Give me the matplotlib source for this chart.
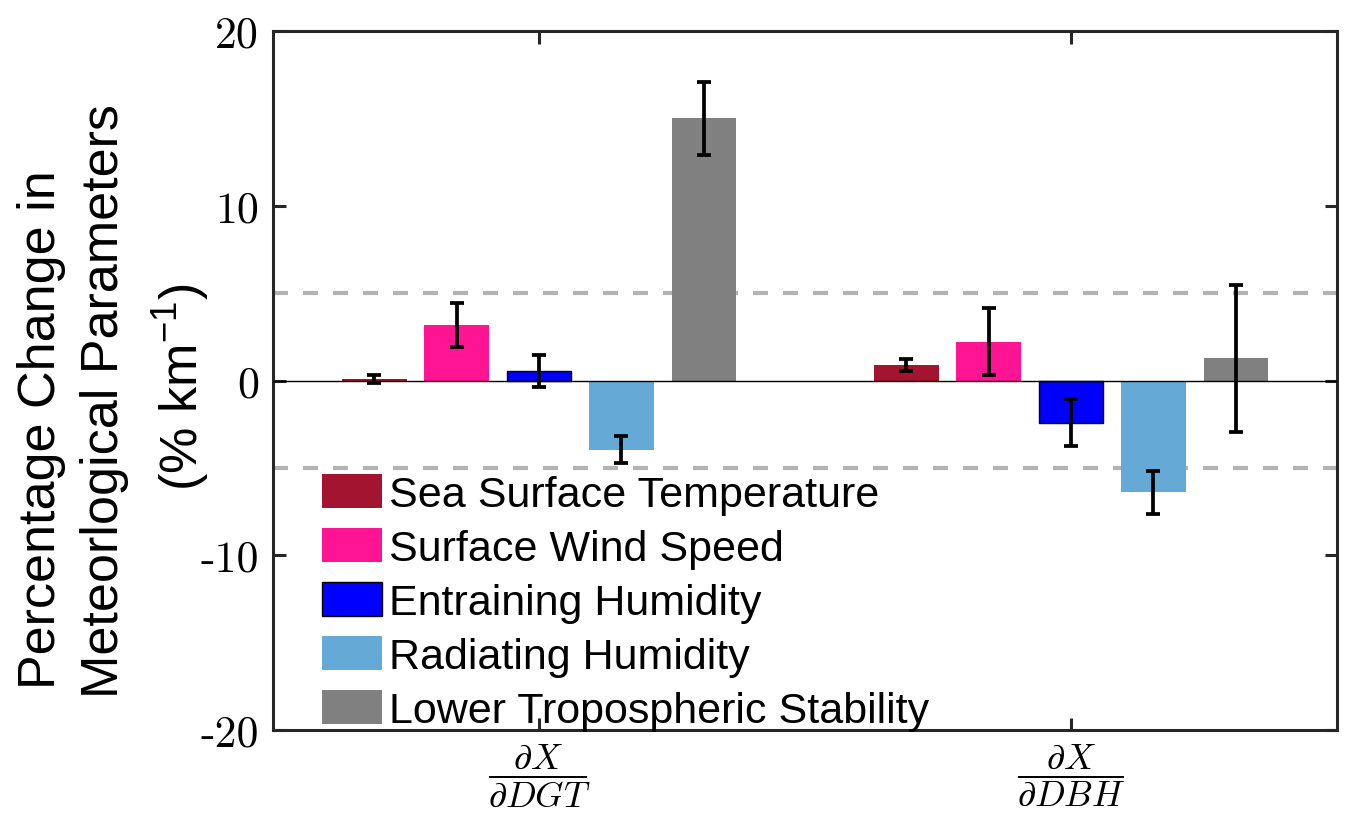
import numpy as np
import matplotlib
matplotlib.use('Agg')
import matplotlib.pyplot as plt

plt.rcParams['font.family'] = ['Liberation Sans', 'DejaVu Sans']

groups = [r'$\dfrac{\partial X}{\partial DGT}$', r'$\dfrac{\partial X}{\partial DBH}$']
names = ['Sea Surface Temperature', 'Surface Wind Speed', 'Entraining Humidity',
         'Radiating Humidity', 'Lower Tropospheric Stability']
colors = ['#A2142F', '#FF1493', '#0000FF', '#65A9D7', '#808080']

# rows: variable, cols: DGT, DBH
vals = [[0.1, 0.88],
        [3.17, 2.23],
        [0.55, -2.42],
        [-3.95, -6.4],
        [15.0, 1.26]]
errs = [[0.22, 0.35],
        [1.27, 1.91],
        [0.9, 1.34],
        [0.75, 1.23],
        [2.07, 4.22]]
yticks = [-20, -10, 0, 10, 20]
ylab_lines = ['Percentage Change in', 'Meteorlogical Parameters',
              '(% km$^{\\mathregular{-1}}$)']

fig = plt.figure(figsize=(13.53, 8.2), dpi=100)
ax = fig.add_axes([0.2018, 0.1085, 0.7864, 0.8525])

x = np.arange(1, len(groups) + 1)
w = 0.122
step = 0.155
for i in range(len(names)):
    off = (i - 2) * step
    ec = 'black' if i == 2 else colors[i]
    lw = 1.0 if i == 2 else 0
    ax.bar(x + off, vals[i], w, color=colors[i], edgecolor=ec, linewidth=lw,
           label=names[i], zorder=2)
    ax.errorbar(x + off, vals[i], yerr=errs[i], fmt='none', ecolor='black',
                elinewidth=2.7, capsize=5, capthick=2.7, zorder=4)

ax.axhline(0, color='black', lw=1.0, zorder=3)
for yy in [5, -5]:
    ax.axhline(yy, color='#B3B3B3', lw=3, linestyle=(0, (3.6, 3.6)), zorder=1)

ax.set_xlim(0.5, 2.5)
ax.set_ylim(-20, 20)
ax.set_xticks(x)
ax.set_xticklabels(groups, fontsize=26, math_fontfamily='cm')
ax.set_yticks(yticks)
ax.set_yticklabels([str(t) for t in yticks], fontsize=31.5, family='cmr10')
ax.tick_params(direction='in', length=9, width=2.2, color='#262626',
               top=True, right=True, pad=10)
ax.tick_params(axis='x', pad=8)
for s in ax.spines.values():
    s.set_linewidth(2.2)
    s.set_color('#262626')

ax.legend(loc='lower left', bbox_to_anchor=(0.0174, -0.044), frameon=False,
          fontsize=31, handlelength=1.4, handleheight=0.85, handletextpad=0.16,
          labelspacing=0.30, borderpad=0.2)

# y label, three lines placed by baseline
lab_x = [55, 118, 198]
lab_y = [430, 401, 387]
for t, lx, ly in zip(ylab_lines, lab_x, lab_y):
    fig.text(lx / 1353, 1 - ly / 820, t, rotation=90, rotation_mode='anchor',
             ha='center', va='baseline', fontsize=37.5)

fig.savefig('out.png', dpi=100)
